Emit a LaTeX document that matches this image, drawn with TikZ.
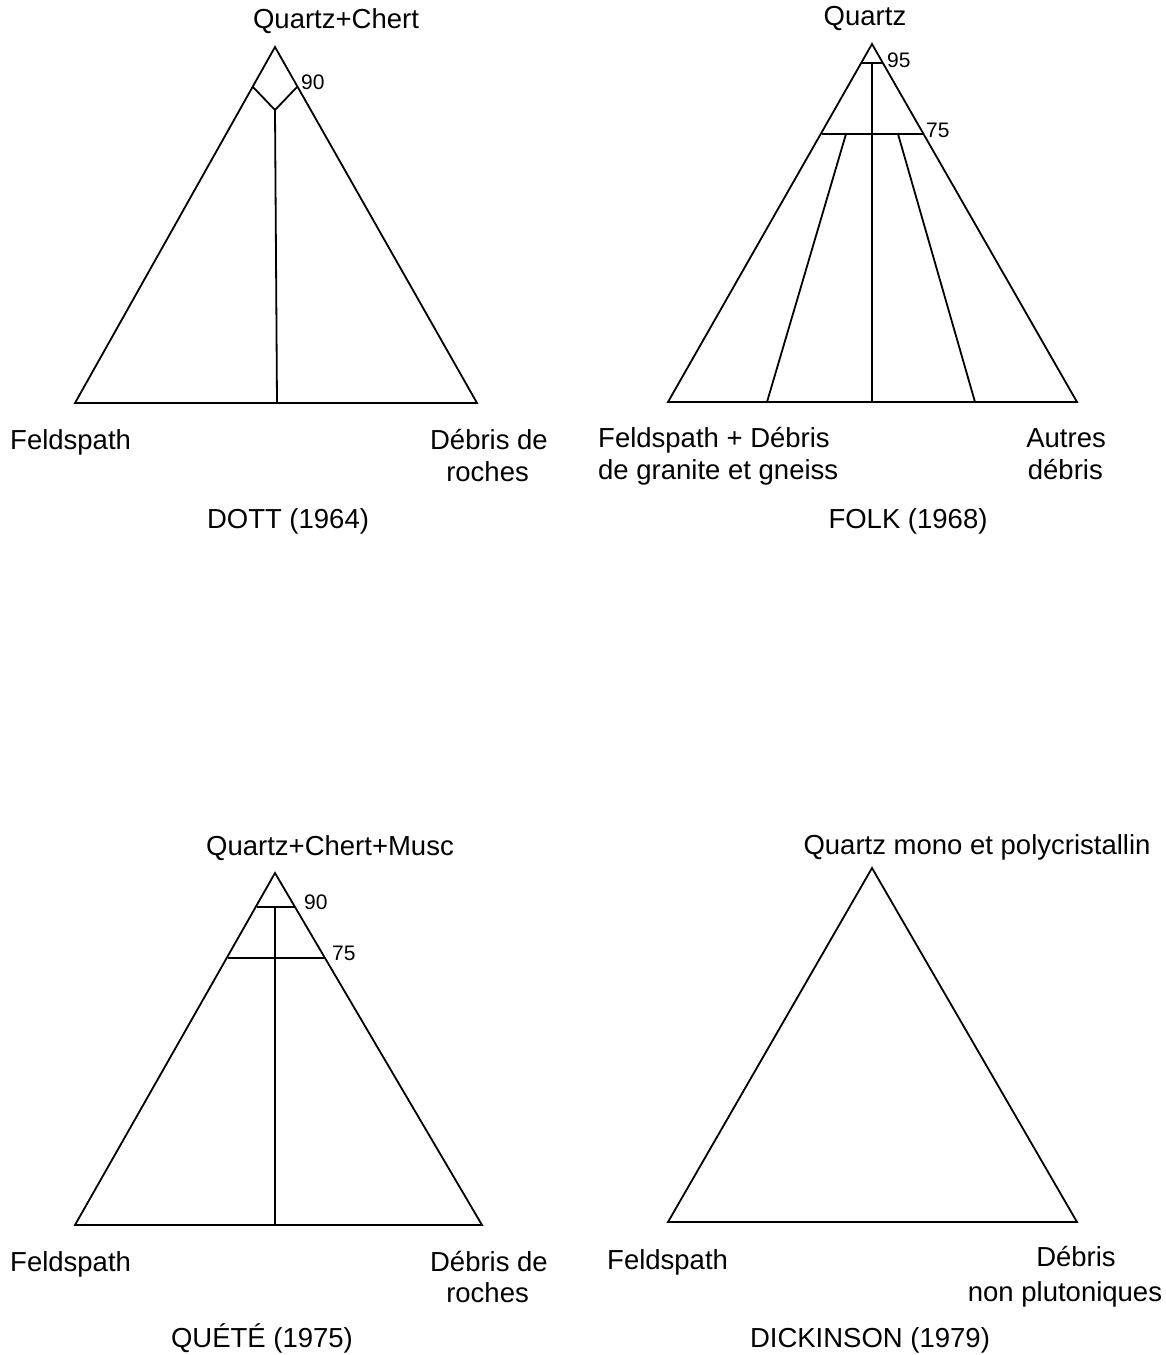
\documentclass[tikz,border=0pt]{standalone}
\usepackage{fontspec}
\setmainfont{Liberation Sans}
\begin{document}
\begin{tikzpicture}[x=1pt,y=-1pt,
  ln/.style={line width=1.8pt, line join=miter},
  lab/.style={inner sep=0pt, font=\fontsize{27.5}{30}\selectfont},
  num/.style={inner sep=0pt, font=\fontsize{21}{22}\selectfont, anchor=west}]
\useasboundingbox (0,0) rectangle (1165,1355);
% ---------- DOTT
\coordinate (a1) at (275,47); \coordinate (l1) at (75,403); \coordinate (r1) at (477,403);
\draw[ln] (a1) -- (l1) -- (r1) -- cycle;
\coordinate (p1l) at (253,87); \coordinate (p1r) at (297,87); \coordinate (m1) at (275,110);
\coordinate (b1) at (277,403);
\draw[ln] (p1l) -- (m1) -- (p1r);
\draw[ln] (m1) -- (b1);
\node[num] (n90a) at (301,82) {90};
\node[lab,anchor=base] (t1) at (336,28) {Quartz+Chert};
\node[lab,anchor=base west] (f1) at (10,449) {Feldspath};
\node[lab,anchor=base east] (d1) at (548,449) {Débris de};
\node[lab,anchor=base east] (d1b) at (529,481) {roches};
\node[lab,anchor=base] (c1) at (288,528) {DOTT (1964)};
% ---------- FOLK
\coordinate (a2) at (872,44); \coordinate (l2) at (668,402); \coordinate (r2) at (1077,402);
\draw[ln] (a2) -- (l2) -- (r2) -- cycle;
\coordinate (q95l) at (861,63); \coordinate (q95r) at (883,63);
\draw[ln] (q95l) -- (q95r);
\coordinate (v2t) at (872,63); \coordinate (v2b) at (872,402);
\draw[ln] (v2t) -- (v2b);
\coordinate (q75l) at (822,134); \coordinate (q75r) at (924,134);
\draw[ln] (q75l) -- (q75r);
\coordinate (s1t) at (846,134); \coordinate (s1b) at (767,402);
\coordinate (s2t) at (898,134); \coordinate (s2b) at (975,402);
\draw[ln] (s1t) -- (s1b);
\draw[ln] (s2t) -- (s2b);
\node[num] (n95) at (887,60) {95};
\node[num] (n75b) at (926,130) {75};
\node[lab,anchor=base] (t2) at (865,25) {Quartz};
\node[lab,anchor=base west] (f2) at (598,447) {Feldspath + Débris};
\node[lab,anchor=base west] (f2b) at (598,479) {de granite et gneiss};
\node[lab,anchor=base east] (d2) at (1106,447) {Autres};
\node[lab,anchor=base east] (d2b) at (1103,479) {débris};
\node[lab,anchor=base] (c2) at (908,528) {FOLK (1968)};
% ---------- QUETE
\coordinate (a3) at (275,873); \coordinate (l3) at (75,1225); \coordinate (r3) at (482,1225);
\draw[ln] (a3) -- (l3) -- (r3) -- cycle;
\coordinate (u90l) at (257,907); \coordinate (u90r) at (295,907);
\draw[ln] (u90l) -- (u90r);
\coordinate (u75l) at (228,958); \coordinate (u75r) at (325,958);
\draw[ln] (u75l) -- (u75r);
\coordinate (v3t) at (275,907); \coordinate (v3b) at (275,1225);
\draw[ln] (v3t) -- (v3b);
\node[num] (n90c) at (304,902) {90};
\node[num] (n75c) at (332,953) {75};
\node[lab,anchor=base] (t3) at (330,855) {Quartz+Chert+Musc};
\node[lab,anchor=base west] (f3) at (10,1271) {Feldspath};
\node[lab,anchor=base east] (d3) at (548,1271) {Débris de};
\node[lab,anchor=base east] (d3b) at (529,1302) {roches};
\node[lab,anchor=base] (c3) at (262,1347) {QUÉTÉ (1975)};
% ---------- DICKINSON
\coordinate (a4) at (872,868); \coordinate (l4) at (668,1222); \coordinate (r4) at (1077,1222);
\draw[ln] (a4) -- (l4) -- (r4) -- cycle;
\node[lab,anchor=base] (t4) at (977,854) {Quartz mono et polycristallin};
\node[lab,anchor=base west] (f4) at (607,1269) {Feldspath};
\node[lab,anchor=base] (d4) at (1076,1266) {Débris};
\node[lab,anchor=base] (d4b) at (1065,1301) {non plutoniques};
\node[lab,anchor=base] (c4) at (870,1347) {DICKINSON (1979)};
\end{tikzpicture}
\end{document}
